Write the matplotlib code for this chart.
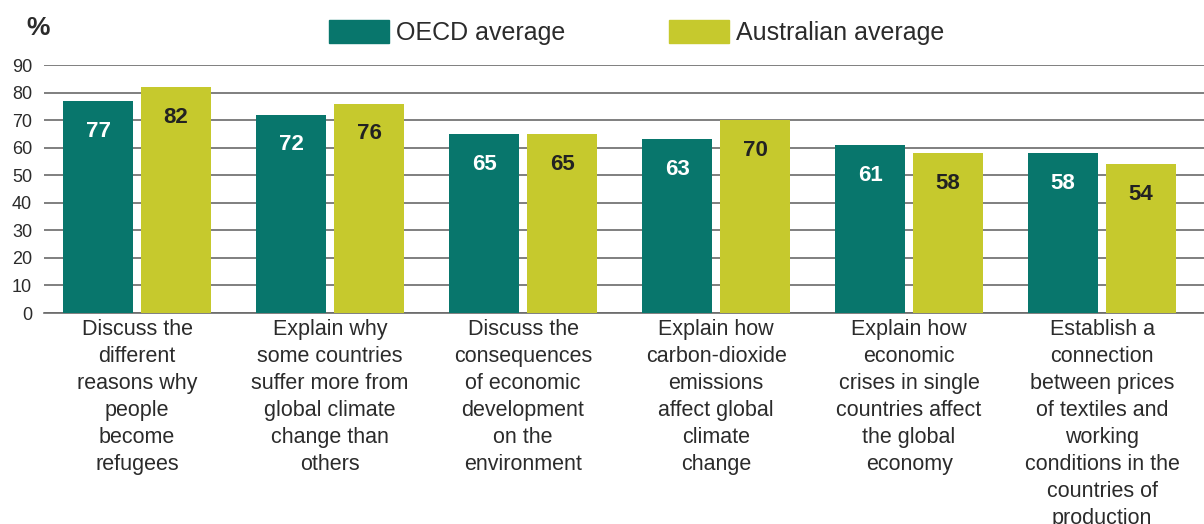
import matplotlib
matplotlib.use("Agg")
import matplotlib.pyplot as plt
import numpy as np

categories = [
    "Discuss the\ndifferent\nreasons why\npeople\nbecome\nrefugees",
    "Explain why\nsome countries\nsuffer more from\nglobal climate\nchange than\nothers",
    "Discuss the\nconsequences\nof economic\ndevelopment\non the\nenvironment",
    "Explain how\ncarbon-dioxide\nemissions\naffect global\nclimate\nchange",
    "Explain how\neconomic\ncrises in single\ncountries affect\nthe global\neconomy",
    "Establish a\nconnection\nbetween prices\nof textiles and\nworking\nconditions in the\ncountries of\nproduction",
]
oecd = [77, 72, 65, 63, 61, 58]
australia = [82, 76, 65, 70, 58, 54]
series_names = ["OECD average", "Australian average"]
y_ticks = [0, 10, 20, 30, 40, 50, 60, 70, 80, 90]

TEAL = "#08766C"
LIME = "#C6C92D"
TEXT = "#2b2b2b"
GRID = "#6a6a6a"

plt.rcParams["font.family"] = ["Liberation Sans", "DejaVu Sans"]

fig = plt.figure(figsize=(12.04, 5.24), dpi=100)
ax = fig.add_axes([44 / 1204, 211 / 524, 1 - 44 / 1204, 248 / 524])

x = np.arange(len(categories))
w = 0.363
off = 0.202
ax.bar(x - off, oecd, width=w, color=TEAL, zorder=3)
ax.bar(x + off, australia, width=w, color=LIME, zorder=3)

for xi, v in zip(x, oecd):
    ax.text(xi - off, v - 11, f"{v}", ha="center", va="center",
            fontsize=16, fontweight="bold", color="white", zorder=4)
for xi, v in zip(x, australia):
    ax.text(xi + off, v - 11, f"{v}", ha="center", va="center",
            fontsize=16, fontweight="bold", color="#222222", zorder=4)

ax.set_xlim(-0.482, 5.528)
ax.set_ylim(0, 90)
ax.set_yticks(y_ticks)
ax.yaxis.grid(True, color=GRID, linewidth=1.2, zorder=0)
ax.set_axisbelow(True)
for s in ["top", "right", "left"]:
    ax.spines[s].set_visible(False)
ax.spines["bottom"].set_color(GRID)
ax.spines["bottom"].set_linewidth(1.2)
ax.tick_params(axis="y", length=0, labelsize=13, labelcolor=TEXT, pad=8.5)
ax.tick_params(axis="x", length=0)
ax.set_xticks(x)
ax.set_xticklabels([])

for xi, lab in zip(x, categories):
    ax.text(xi, -2.2, lab, ha="center", va="top", fontsize=15.5,
            color=TEXT, linespacing=1.37, transform=ax.transData, clip_on=False)

fig.text(26 / 1204, 1 - 28 / 524, "%", fontsize=19, fontweight="bold",
         color=TEXT, ha="left", va="center")

# legend drawn as patches with labels above the plot
for name, color, px in [(series_names[0], TEAL, 329), (series_names[1], LIME, 669)]:
    fig.patches.append(plt.Rectangle((px / 1204, 1 - 43 / 524), 60 / 1204, 23 / 524,
                                     transform=fig.transFigure, color=color))
    fig.text((px + 67) / 1204, 1 - 33 / 524, name, fontsize=18, color=TEXT,
             ha="left", va="center")

fig.savefig("out.png", dpi=100)
